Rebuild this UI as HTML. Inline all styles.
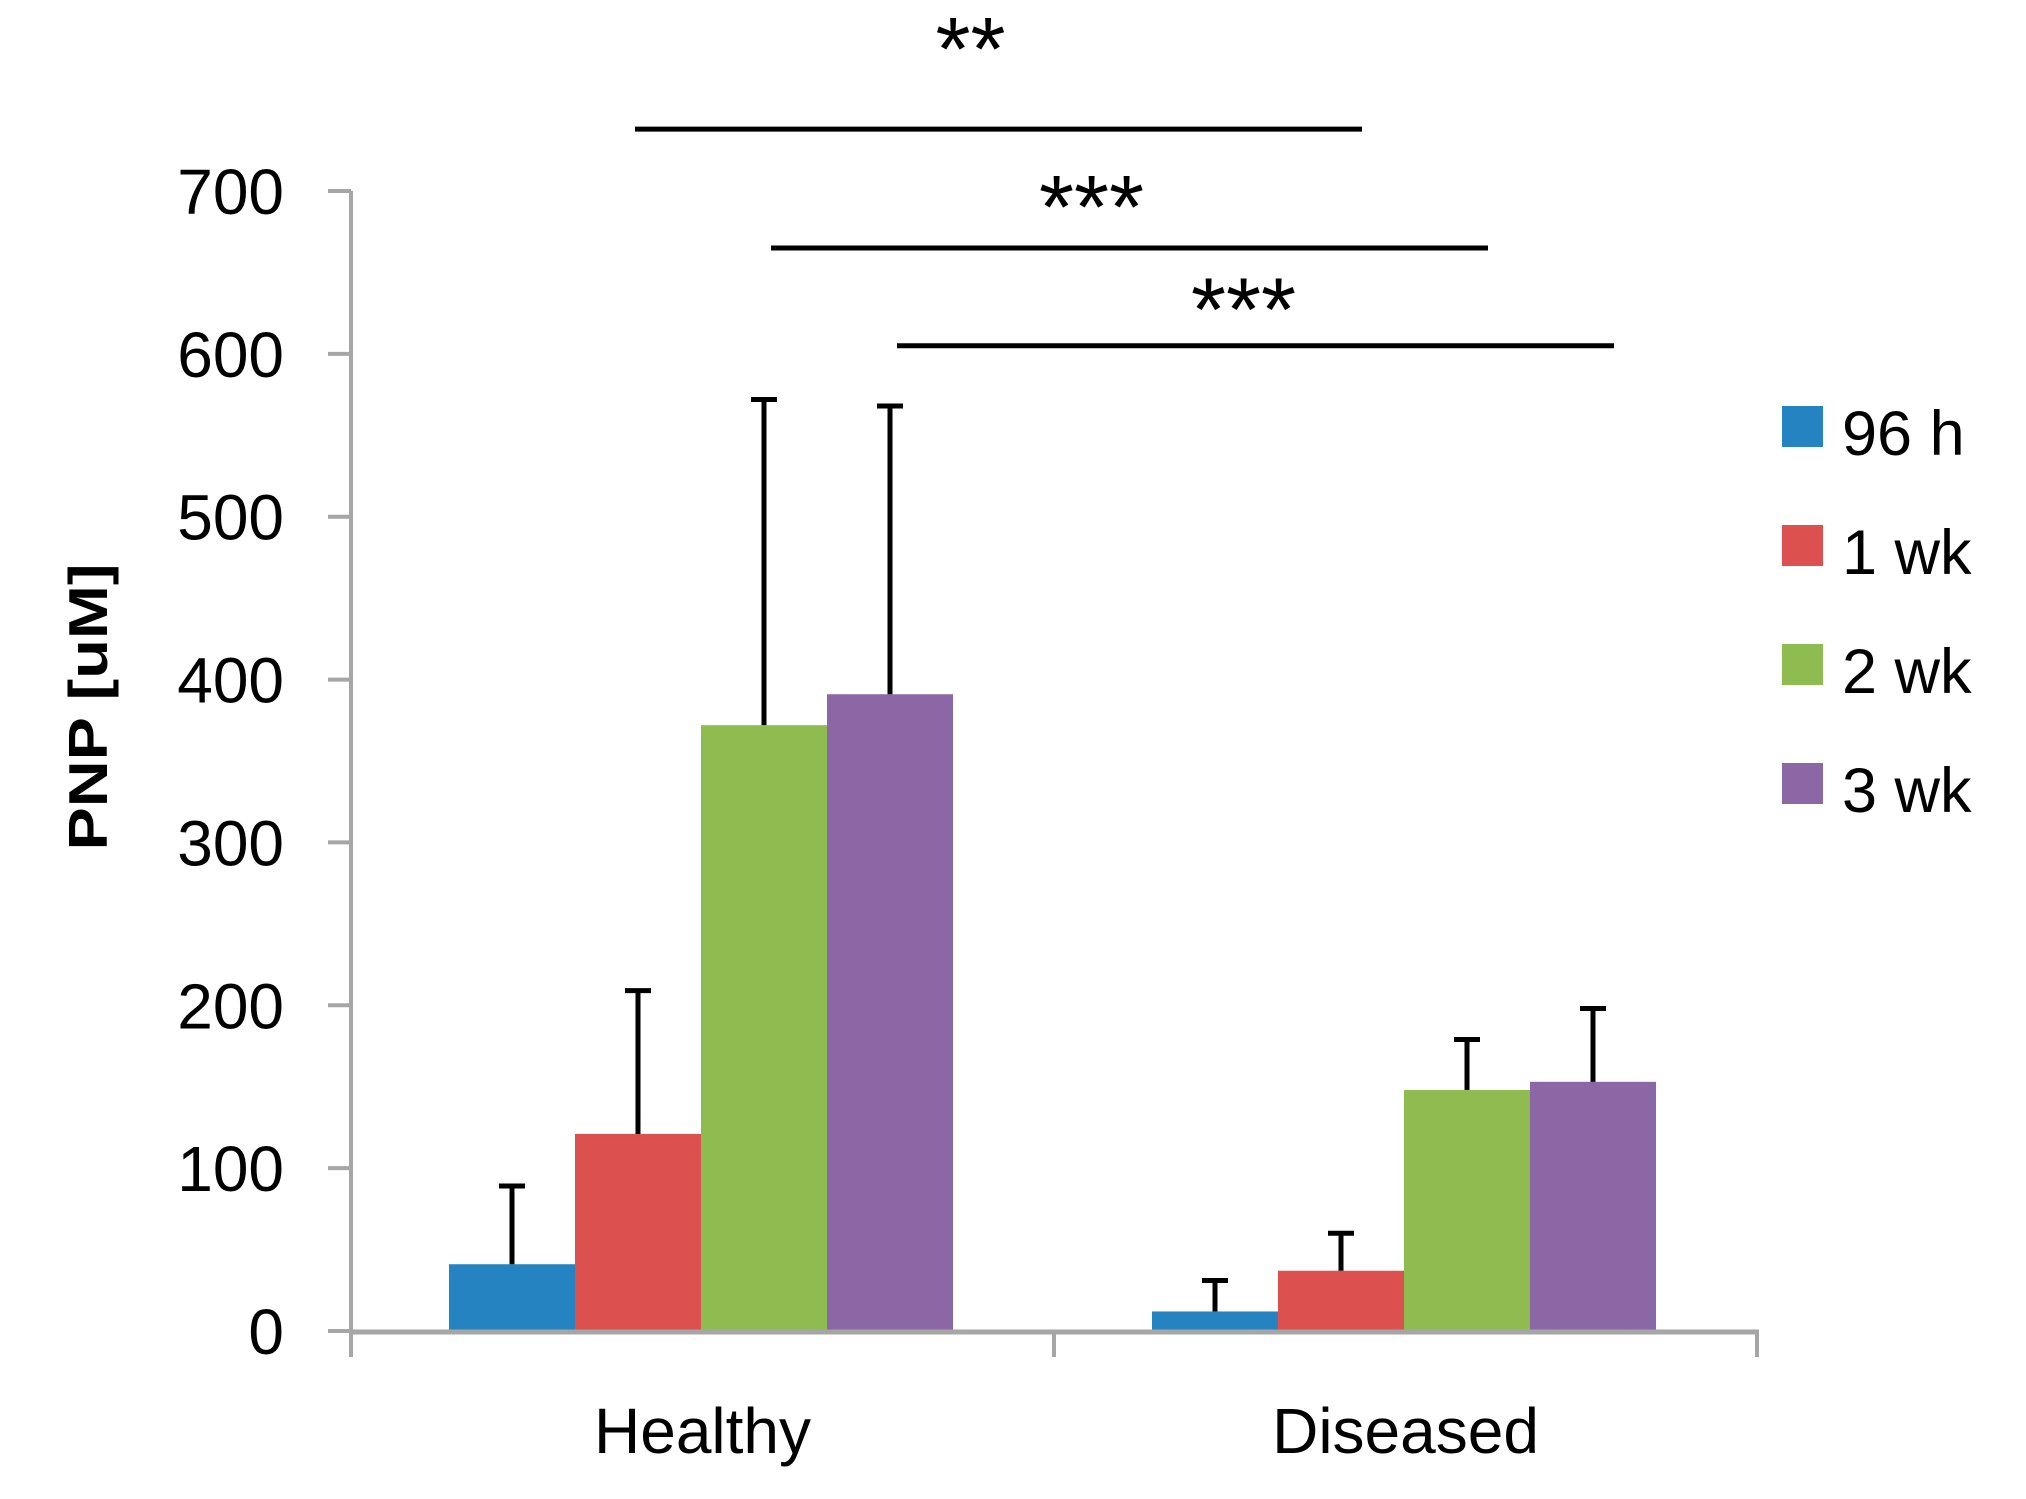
<!DOCTYPE html>
<html><head><meta charset="utf-8"><style>
html,body{margin:0;padding:0;background:#fff;}
svg{display:block;}
text{font-family:"Liberation Sans",sans-serif;fill:#000;}
</style></head><body>
<svg id="chart" width="2026" height="1499" viewBox="0 0 2026 1499" xmlns="http://www.w3.org/2000/svg"></svg>
<script>
const categories = ["Healthy", "Diseased"];
const seriesNames = ["96 h", "1 wk", "2 wk", "3 wk"];
const seriesColors = ["#2683c1", "#dd5050", "#8fbc50", "#8b67a5"];
const valuesHealthy = [41, 121, 372, 391];
const valuesDiseased = [12, 37, 148, 153];
const errorTopHealthy = [89, 209, 572, 568];
const errorTopDiseased = [31, 60, 179, 198];
const yTicks = [0, 100, 200, 300, 400, 500, 600, 700];
const sigLabels = ["**", "***", "***"];
const sigSeries = [1, 2, 3];
const sigLevels = [738, 665, 605];
const sigLabelLevels = [800, 703, 640];
const sigLabelShift = [-28, -38, -12];

const svg = document.getElementById('chart');
const NS = 'http://www.w3.org/2000/svg';
const X0 = 351, X1 = 1757, Y0 = 1331, YTOP = 191, YMAX = 700;
const catW = (X1 - X0) / categories.length;
const barW = 126, gap = 98;
function y(v){ return Y0 - (v / YMAX) * (Y0 - YTOP); }
function xCat(i){ return X0 + i * catW; }
function xBar(ci, si){ return xCat(ci) + gap + si * barW; }
function mk(tag, attrs){ const e = document.createElementNS(NS, tag); for (const k in attrs) e.setAttribute(k, attrs[k]); svg.appendChild(e); return e; }

const vals = [valuesHealthy, valuesDiseased];
const errs = [errorTopHealthy, errorTopDiseased];
for (let ci = 0; ci < categories.length; ci++) {
  for (let si = 0; si < seriesNames.length; si++) {
    const bx = xBar(ci, si), top = y(vals[ci][si]);
    const r = mk('rect', {x: bx, y: top, width: barW, height: Y0 - top, fill: seriesColors[si]});
    
    
    const cx = bx + barW / 2, et = y(errs[ci][si]);
    const l = mk('line', {x1: cx, y1: top, x2: cx, y2: et, stroke: '#000', 'stroke-width': 5});
    
    
    const c = mk('line', {x1: cx - 13, y1: et, x2: cx + 13, y2: et, stroke: '#000', 'stroke-width': 5});
    
    
  }
}

const ya = mk('line', {x1: X0, y1: YTOP, x2: X0, y2: Y0, stroke: '#a6a6a6', 'stroke-width': 4});


const xa = mk('line', {x1: X0 - 2, y1: Y0 + 1, x2: X1 + 2, y2: Y0 + 1, stroke: '#a6a6a6', 'stroke-width': 5});


for (let i = 0; i <= categories.length; i++) {
  const t = mk('line', {x1: xCat(i), y1: Y0, x2: xCat(i), y2: Y0 + 26, stroke: '#a6a6a6', 'stroke-width': 4});
  
  
}
yTicks.forEach(v => {
  const t = mk('line', {x1: X0 - 23, y1: y(v), x2: X0, y2: y(v), stroke: '#a6a6a6', 'stroke-width': 4});
  
  
  const tx = mk('text', {x: 284, y: y(v) + 23, 'font-size': 64, 'text-anchor': 'end'});
  tx.textContent = v;
  
  
});
categories.forEach((c, i) => {
  const t = mk('text', {x: xCat(i) + catW / 2, y: 1453, 'font-size': 64, 'text-anchor': 'middle'});
  t.textContent = c;
  
  
});
const yt = mk('text', {x: 0, y: 0, 'font-size': 55, 'font-weight': 'bold', 'text-anchor': 'middle', transform: 'translate(107,707) rotate(-90)', textLength: 287, lengthAdjust: 'spacingAndGlyphs'});
yt.textContent = 'PNP [uM]';



sigSeries.forEach((s, i) => {
  const xa1 = xBar(0, s) + barW / 2 + (i === 0 ? -3 : 7), xb1 = xBar(1, s) + barW / 2 + 21;
  const ly = y(sigLevels[i]);
  const l = mk('line', {x1: xa1, y1: ly, x2: xb1, y2: ly, stroke: '#000', 'stroke-width': 5});
  
  
  const t = mk('text', {x: (xa1 + xb1) / 2 + sigLabelShift[i], y: y(sigLabelLevels[i]) + 52, 'font-size': 90, 'text-anchor': 'middle'});
  t.textContent = sigLabels[i];
  
  
});

seriesNames.forEach((n, i) => {
  const ly = 406 + i * 119;
  const r = mk('rect', {x: 1782, y: ly, width: 41, height: 41, fill: seriesColors[i]});
  
  
  const t = mk('text', {x: 1842, y: ly + 49, 'font-size': 63});
  t.textContent = n;
  
  
});
</script>
</body></html>
